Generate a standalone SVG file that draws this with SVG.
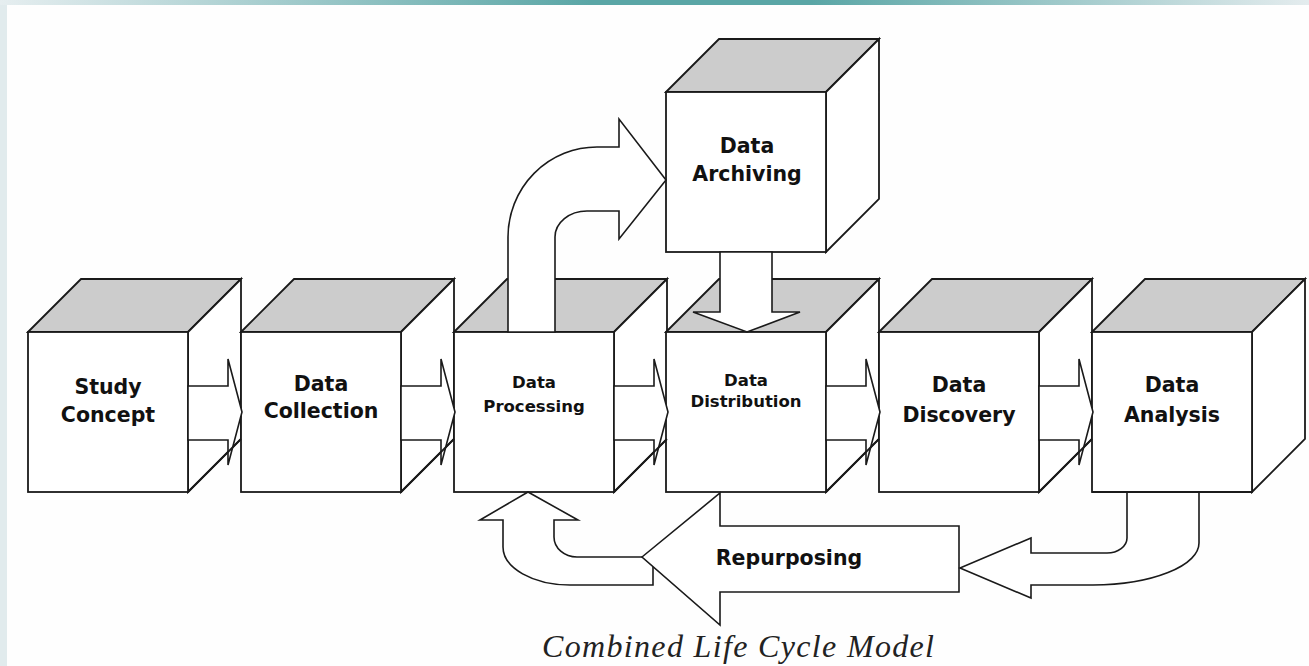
<svg xmlns="http://www.w3.org/2000/svg" width="1309" height="666" viewBox="0 0 1309 666">
<defs>
<linearGradient id="band" x1="0" y1="0" x2="1309" y2="0" gradientUnits="userSpaceOnUse">
<stop offset="0" stop-color="#e6eef0"/>
<stop offset="0.45" stop-color="#5aa6a6"/>
<stop offset="0.62" stop-color="#5aa6a6"/>
<stop offset="1" stop-color="#e4ecee"/>
</linearGradient>
<style>
.face{fill:#ffffff;stroke:#1a1a1a;stroke-width:1.8;stroke-linejoin:miter}
.top{fill:#cccccc;stroke:#1a1a1a;stroke-width:1.8;stroke-linejoin:miter}
.edge{fill:none;stroke:#1a1a1a;stroke-width:1.8}
.arrow{fill:#ffffff;stroke:#1a1a1a;stroke-width:1.6;stroke-linejoin:miter}
.lbl{font-family:"DejaVu Sans",Verdana,sans-serif;font-weight:bold;font-size:20.5px;text-anchor:middle;fill:#111111}
.sm{font-size:16.5px}
.cap{font-family:"Liberation Serif","Times New Roman",serif;font-style:italic;font-size:32px;fill:#222222}
</style>
</defs>
<rect x="0" y="0" width="1309" height="666" fill="#fefefe"/>
<rect x="0" y="0" width="7" height="666" fill="#e1ebed"/>
<rect x="0" y="0" width="1309" height="5" fill="url(#band)"/>

<g id="study-concept">
<polygon class="top" points="28,332 81,279 241,279 188,332"/>
<polygon class="face" points="188,332 241,279 241,439 188,492"/>
<rect class="face" x="28" y="332" width="160" height="160"/>
<text class="lbl" x="108" y="394">Study</text>
<text class="lbl" x="108" y="422">Concept</text>
</g>
<g id="data-collection">
<polygon class="top" points="241,332 294,279 454,279 401,332"/>
<polygon class="face" points="401,332 454,279 454,439 401,492"/>
<rect class="face" x="241" y="332" width="160" height="160"/>
<text class="lbl" x="321" y="391">Data</text>
<text class="lbl" x="321" y="418">Collection</text>
</g>
<g id="data-processing">
<polygon class="top" points="454,332 507,279 667,279 614,332"/>
<polygon class="face" points="614,332 667,279 667,439 614,492"/>
<rect class="face" x="454" y="332" width="160" height="160"/>
<text class="lbl sm" x="534" y="388">Data</text>
<text class="lbl sm" x="534" y="412">Processing</text>
</g>
<g id="data-distribution">
<polygon class="top" points="666,332 719,279 879,279 826,332"/>
<polygon class="face" points="826,332 879,279 879,439 826,492"/>
<rect class="face" x="666" y="332" width="160" height="160"/>
<text class="lbl sm" x="746" y="386">Data</text>
<text class="lbl sm" x="746" y="407">Distribution</text>
</g>
<g id="data-discovery">
<polygon class="top" points="879,332 932,279 1092,279 1039,332"/>
<polygon class="face" points="1039,332 1092,279 1092,439 1039,492"/>
<rect class="face" x="879" y="332" width="160" height="160"/>
<text class="lbl" x="959" y="392">Data</text>
<text class="lbl" x="959" y="422">Discovery</text>
</g>
<g id="data-analysis">
<polygon class="top" points="1092,332 1145,279 1305,279 1252,332"/>
<polygon class="face" points="1252,332 1305,279 1305,439 1252,492"/>
<rect class="face" x="1092" y="332" width="160" height="160"/>
<text class="lbl" x="1172" y="392">Data</text>
<text class="lbl" x="1172" y="422">Analysis</text>
</g>
<g id="data-archiving">
<polygon class="top" points="666,92 719,39 879,39 826,92"/>
<polygon class="face" points="826,92 879,39 879,199 826,252"/>
<rect class="face" x="666" y="92" width="160" height="160"/>
<text class="lbl" x="747" y="153">Data</text>
<text class="lbl" x="747" y="181">Archiving</text>
</g>

<g id="connectors">
<polygon class="arrow" points="188,386 228,386 228,359 242,412 228,465 228,440 188,440"/>
<polygon class="arrow" points="401,386 441,386 441,359 455,412 441,465 441,440 401,440"/>
<polygon class="arrow" points="614,386 654,386 654,359 668,412 654,465 654,440 614,440"/>
<polygon class="arrow" points="826,386 866,386 866,359 880,412 866,465 866,440 826,440"/>
<polygon class="arrow" points="1039,386 1079,386 1079,359 1093,412 1079,465 1079,440 1039,440"/>
<path class="arrow" d="M508,332 L508,237 A89,90 0 0 1 597,147 L619,147 L619,119 L666,180 L619,239 L619,211 L587,211 A32,26 0 0 0 555,237 L555,332 Z"/>
<polygon class="arrow" points="720,252 720,312 693,312 747,332 800,312 772,312 772,252"/>
<path class="arrow" d="M528,492 L578,520 L554,520 L554,537 A23,20 0 0 0 577,557 L653,557 L653,585 L570,585 A67,38 0 0 1 503,547 L503,520 L480,520 Z"/>
<polygon class="arrow" points="642,557 720,493 720,526 959,526 959,592 720,592 720,625"/>
<path class="arrow" d="M1127,492 L1127,538 A20,15 0 0 1 1107,553 L1031,553 L1031,538 L960,568 L1031,598 L1031,585 L1093,585 A107,42 0 0 0 1199,543 L1199,492 Z"/>
<text class="lbl" x="789" y="565">Repurposing</text>
</g>

<g id="cube-edges">
<line class="edge" x1="188" y1="492" x2="241" y2="439"/>
<line class="edge" x1="401" y1="492" x2="454" y2="439"/>
<line class="edge" x1="614" y1="492" x2="667" y2="439"/>
<line class="edge" x1="826" y1="492" x2="879" y2="439"/>
<line class="edge" x1="1039" y1="492" x2="1092" y2="439"/>
<line class="edge" x1="1092" y1="492" x2="1252" y2="492"/>
</g>

<text class="cap" x="542" y="657" textLength="392" lengthAdjust="spacing">Combined Life Cycle Model</text>
</svg>
